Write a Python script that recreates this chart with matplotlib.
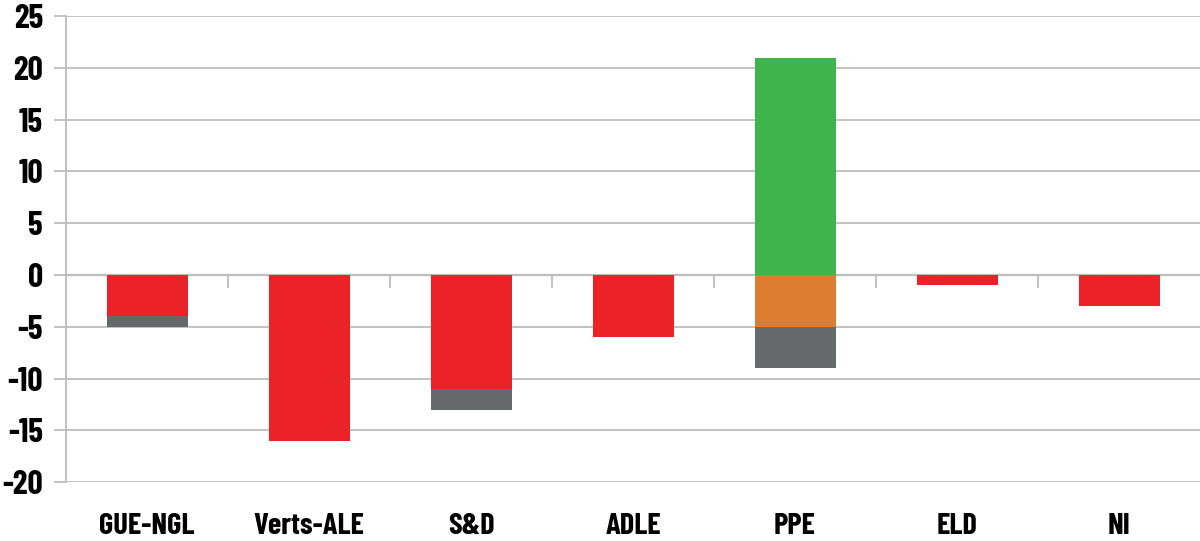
import numpy as np
import matplotlib
matplotlib.use("Agg")
import matplotlib.pyplot as plt

# === DATA ===
groups = ["GUE-NGL", "Verts-ALE", "S&D", "ADLE", "PPE", "ELD", "NI"]
red_vals = [-4, -16, -11, -6, 0, -1, -3]
grey_vals = [-1, 0, -2, 0, -4, 0, 0]
orange_vals = [0, 0, 0, 0, -5, 0, 0]
green_vals = [0, 0, 0, 0, 21, 0, 0]
yticks = [-20, -15, -10, -5, 0, 5, 10, 15, 20, 25]

# === STYLE ===
plt.rcParams["font.family"] = ["Barlow Condensed", "DejaVu Sans"]
RED = "#ec2229"
GREY = "#65696a"
ORANGE = "#db7c31"
GREEN = "#3db54a"
LINE = "#bcbebe"

fig = plt.figure(figsize=(12, 5.41), dpi=100)
ax = fig.add_axes([0.055, 0.109, 0.945, 0.861])

x = np.arange(len(groups))
w = 0.5
red = np.array(red_vals)
orange = np.array(orange_vals)
ax.bar(x, green_vals, w, color=GREEN, zorder=3)
ax.bar(x, red_vals, w, color=RED, zorder=3)
ax.bar(x, orange_vals, w, bottom=red, color=ORANGE, zorder=3)
ax.bar(x, grey_vals, w, bottom=red + orange, color=GREY, zorder=3)

ax.set_xlim(-0.5, len(groups) - 0.5)
ax.set_ylim(-20, 25)
ax.set_yticks(yticks)
ax.set_yticklabels([str(v) for v in yticks], fontsize=24, fontweight="bold")
ax.grid(axis="y", color=LINE, linewidth=1.3, zorder=0)
ax.tick_params(axis="y", length=8.6, width=1.3, color=LINE, pad=8)

# category names at the bottom, no tick marks
ax.set_xticks(x)
ax.set_xticklabels(groups, fontsize=22, fontweight="bold")
ax.tick_params(axis="x", length=0, pad=22)

# separators hanging from the zero line
for b in np.arange(0.5, len(groups) - 1, 1.0):
    ax.plot([b, b], [0, -1.2], color=LINE, linewidth=1.3, zorder=1)
ax.axhline(0, color=LINE, linewidth=1.6, zorder=2)

for s in ["top", "right", "bottom"]:
    ax.spines[s].set_visible(False)
ax.spines["left"].set_color(LINE)
ax.spines["left"].set_linewidth(1.3)

fig.savefig("out.png", dpi=100)
